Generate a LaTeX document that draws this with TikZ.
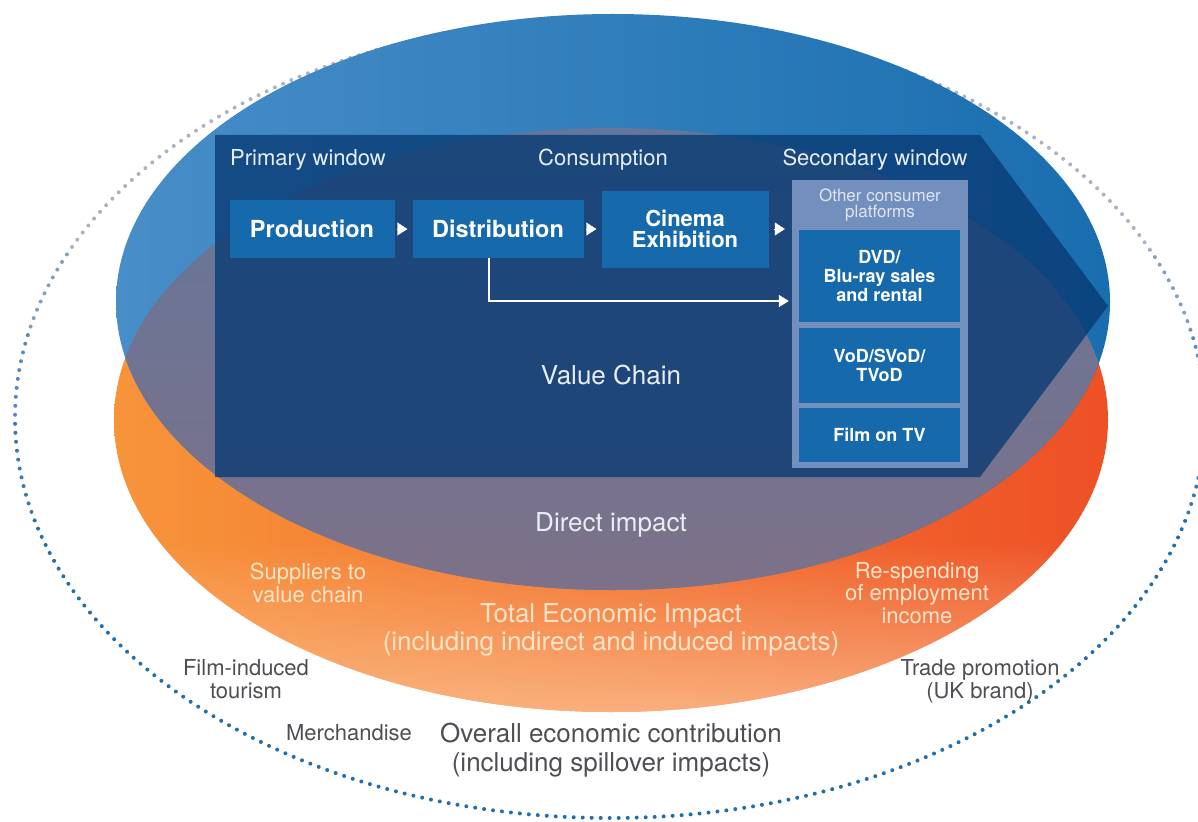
\documentclass[tikz,border=0pt]{standalone}
\usepackage{fontspec}
\setmainfont{TeX Gyre Heros}
\usetikzlibrary{arrows.meta,positioning,fadings}

\definecolor{dotblue}{RGB}{35,110,170}
\definecolor{dotgray}{RGB}{170,178,200}
\definecolor{ellblueL}{RGB}{72,142,200}
\definecolor{ellblueR}{RGB}{25,110,175}
\definecolor{orangeL}{RGB}{247,148,58}
\definecolor{orangeR}{RGB}{238,80,38}
\definecolor{peach}{RGB}{252,196,150}
\definecolor{overlapT}{RGB}{100,118,155}
\definecolor{overlapB}{RGB}{132,112,132}
\definecolor{chainnavy}{RGB}{8,58,115}
\definecolor{boxblue}{RGB}{22,106,172}
\definecolor{panelblue}{RGB}{115,143,190}
\definecolor{paneltext}{RGB}{222,230,242}
\definecolor{headtext}{RGB}{232,238,246}
\definecolor{creamtext}{RGB}{253,228,200}
\definecolor{labelgray}{RGB}{78,78,84}

\tikzfading[name=fadeup,top color=transparent!100,bottom color=transparent!12]

\begin{document}
\begin{tikzpicture}[x=1pt,y=-1pt,inner sep=0pt]
  % Styles
  \tikzset{dots/.style={line width=4pt,line cap=round,dash pattern=on 0pt off 9pt},
           box/.style={fill=boxblue,text=white,align=center,font=\bfseries\fontsize{23.5}{24}\selectfont},
           subbox/.style={box,minimum width=161pt,font=\bfseries\fontsize{18}{19}\selectfont},
           head/.style={text=headtext,font=\fontsize{22}{24}\selectfont},
           cream/.style={text=creamtext,align=center,font=\fontsize{22}{22.5}\selectfont},
           grey/.style={text=labelgray,align=center,font=\fontsize{22}{23}\selectfont},
           big/.style={font=\fontsize{26}{28.5}\selectfont},
           tri/.style={-{Triangle[length=10pt,width=13pt]},white,line width=0.4pt},
           link/.style={-{Triangle[length=10pt,width=12pt]},white,line width=1.4pt}}

  \useasboundingbox (0,0) rectangle (1198,821);

  % outer dotted ellipse, grey at the top, blue further down
  \foreach \ya/\yb/\c in {0/250/0,250/330/30,330/420/60,420/520/85,520/821/100}{
    \begin{scope}
      \clip (0,\ya) rectangle (1198,\yb);
      \draw[dots,dotblue!\c!dotgray] (610,418) ellipse [x radius=595pt,y radius=400pt];
    \end{scope}
  }

  % total economic impact ellipse
  \shade[left color=orangeL,right color=orangeR] (611,420) ellipse [x radius=497pt,y radius=292pt];
  \begin{scope}
    \clip (611,420) ellipse [x radius=497pt,y radius=292pt];
    \fill[peach,path fading=fadeup] (100,540) rectangle (1120,740);
  \end{scope}

  % direct impact ellipse and its overlap
  \shade[left color=ellblueL,right color=ellblueR] (613,302) ellipse [x radius=497pt,y radius=288pt];
  \begin{scope}
    \clip (613,302) ellipse [x radius=497pt,y radius=288pt];
    \shade[top color=overlapT,bottom color=overlapB] (611,420) ellipse [x radius=497pt,y radius=292pt];
  \end{scope}

  % value chain arrow
  \fill[chainnavy,fill opacity=0.78] (215,135) -- (980,135) -- (1108,306) -- (980,477) -- (215,477) -- cycle;

  % stages
  \node[box,minimum width=165pt,minimum height=58pt] (prod) at (312,229) {Production};
  \node[box,minimum width=171pt,minimum height=58pt] (dist) at (498,229) {Distribution};
  \node[box,minimum width=167pt,minimum height=77pt,font=\bfseries\fontsize{22}{21}\selectfont] (cine) at (685,229) {Cinema\\Exhibition};
  \node[fill=panelblue,minimum width=176pt,minimum height=288pt] (panel) at (880,324) {};
  \node[text=paneltext,align=center,font=\fontsize{17}{16}\selectfont] (other) at (880,205) {Other consumer\\platforms};
  \node[subbox,minimum height=92pt] (dvd) at (879.5,276) {DVD/\\Blu-ray sales\\and rental};
  \node[subbox,minimum height=75pt] (vod) at (879.5,365) {VoD/SVoD/\\TVoD};
  \node[subbox,minimum height=54pt] (tv) at (879.5,435) {Film on TV};

  \draw[tri] ([xshift=2pt]prod.east) -- ([xshift=-5pt]dist.west);
  \draw[tri] ([xshift=2pt]dist.east) -- ([xshift=-5pt]cine.west);
  \draw[tri] ([xshift=5pt]cine.east) -- ([xshift=-7pt]panel.west |- cine.east);
  \draw[link] ([xshift=-9pt]dist.south) |- ([xshift=-3pt,yshift=23pt]panel.west);

  % headings
  \node[head,anchor=west] (prim) at (230,160) {Primary window};
  \node[head] (cons) at (603,160) {Consumption};
  \node[head] (sec) at (875,160) {Secondary window};
  \node[head,big] (chain) at (611,375) {Value Chain};
  \node[head,big] (direct) at (611,525) {Direct impact};

  % impact labels
  \node[cream] (supp) at (308,583) {Suppliers to\\value chain};
  \node[cream,big] (total) at (611,630) {Total Economic Impact\\(including indirect and induced impacts)};
  \node[cream] (respend) at (917,593) {Re-spending\\of employment\\income};
  \node[grey] (tour) at (246,679) {Film-induced\\tourism};
  \node[grey] (merch) at (349,733) {Merchandise};
  \node[grey,big] (overall) at (611,750) {Overall economic contribution\\(including spillover impacts)};
  \node[grey] (trade) at (980,681) {Trade promotion\\(UK brand)};
\end{tikzpicture}
\end{document}
